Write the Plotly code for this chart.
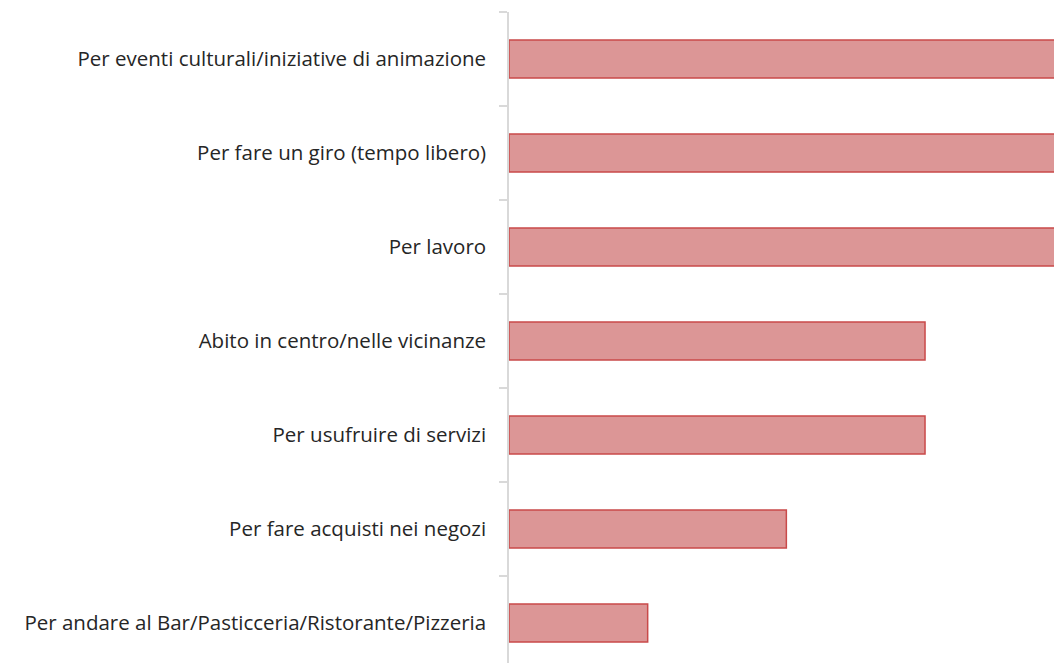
import plotly.graph_objects as go

# Reasons for visiting the town centre (bottom to top)
categories = [
    "Per andare al Bar/Pasticceria/Ristorante/Pizzeria",
    "Per fare acquisti nei negozi",
    "Per usufruire di servizi",
    "Abito in centro/nelle vicinanze",
    "Per lavoro",
    "Per fare un giro (tempo libero)",
    "Per eventi culturali/iniziative di animazione",
]
values = [1, 2, 3, 3, 4, 4, 4]

fig = go.Figure(
    go.Bar(
        x=values,
        y=categories,
        orientation="h",
        width=0.404,
        marker=dict(color="#dc9696", line=dict(color="#c94a4a", width=1.5)),
        hoverinfo="x+y",
    )
)

fig.update_layout(
    width=1054,
    height=663,
    margin=dict(l=509, r=0, t=12, b=0),
    paper_bgcolor="white",
    plot_bgcolor="white",
    showlegend=False,
    font=dict(family="Open Sans", size=20.5, color="#262626"),
    xaxis=dict(
        range=[0, 3.93],
        visible=False,
        fixedrange=True,
    ),
    yaxis=dict(
        type="category",
        range=[-0.426, 6.5],
        showline=True,
        linecolor="#d9d9d9",
        linewidth=1.5,
        ticks="outside",
        tickson="boundaries",
        ticklen=8,
        tickcolor="#d9d9d9",
        tickwidth=1.5,
        showgrid=False,
        zeroline=False,
        ticklabelstandoff=17,
        automargin=False,
    ),
)

fig.write_html("out.html")
